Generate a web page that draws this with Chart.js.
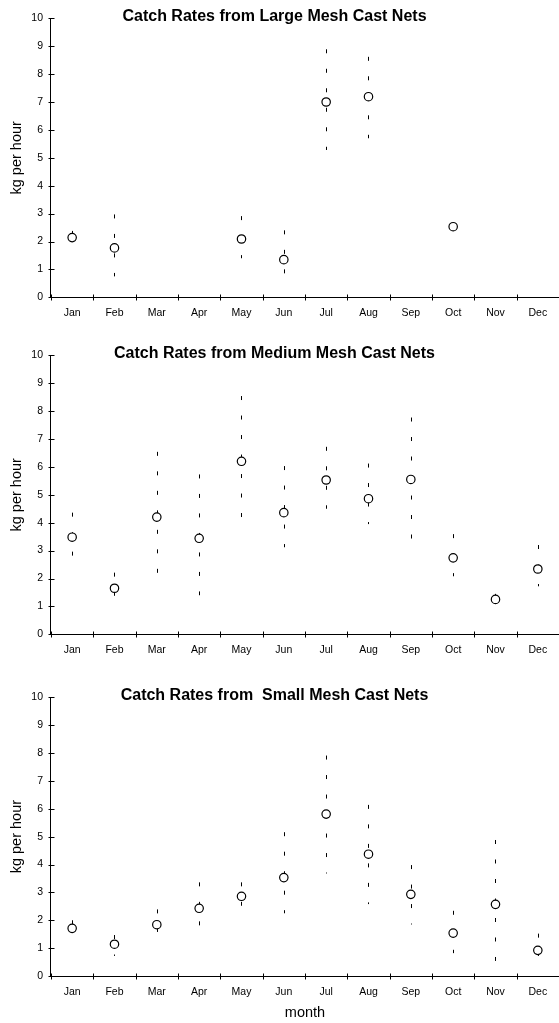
<!DOCTYPE html>
<html>
<head>
<meta charset="utf-8">
<script src="https://cdn.jsdelivr.net/npm/chart.js@4"></script>
<style>
  body { margin: 0; width: 559px; height: 1023px; overflow: hidden; background: #fff; position: relative; }
  canvas { position: absolute; left: -10px; }
</style>
</head>
<body>
<canvas id="large" width="569" height="330" style="top:0px"></canvas>
<canvas id="medium" width="569" height="330" style="top:337px"></canvas>
<canvas id="small" width="569" height="344" style="top:679px"></canvas>
<script>
// months on the x axis
const months = ['Jan', 'Feb', 'Mar', 'Apr', 'May', 'Jun', 'Jul', 'Aug', 'Sep', 'Oct', 'Nov', 'Dec'];
const yTicks = [0, 10];

// large mesh: mean catch rate and error bar ends (kg per hour)
const largeMean = [2.14, 1.77, null, null, 2.09, 1.35, 7.0, 7.19, null, 2.53, null, null];
const largeHigh = [2.38, 2.97, null, null, 2.91, 2.40, 8.89, 8.62, null, 2.60, null, null];
const largeLow  = [1.90, 0.75, null, null, 1.40, 0.84, 5.28, 5.70, null, 2.45, null, null];

// medium mesh
const mediumMean = [3.48, 1.65, 4.20, 3.44, 6.20, 4.36, 5.53, 4.86, 5.55, 2.74, 1.25, 2.34];
const mediumHigh = [4.36, 2.21, 6.54, 5.73, 8.54, 6.03, 6.72, 6.12, 7.77, 3.59, 1.45, 3.20];
const mediumLow  = [2.82, 1.38, 2.20, 1.40, 4.20, 3.12, 4.50, 3.95, 3.42, 2.08, 1.10, 1.72];

// small mesh
const smallMean = [1.71, 1.14, 1.84, 2.43, 2.86, 3.53, 5.81, 4.37, 2.93, 1.54, 2.57, 0.92];
const smallHigh = [2.00, 1.47, 2.39, 3.36, 3.36, 5.16, 7.91, 6.14, 3.98, 2.34, 4.88, 1.52];
const smallLow  = [1.50, 0.72, 1.58, 1.80, 2.52, 2.25, 3.68, 2.58, 1.85, 0.82, 0.54, 0.72];

Chart.defaults.font.family = '"Liberation Sans", Arial, sans-serif';
Chart.defaults.color = '#000';

// dashed vertical error bars, drawn under the circles
const errorBars = {
  id: 'errorBars',
  beforeDatasetsDraw(chart, args, opts) {
    const { ctx, scales: { x, y } } = chart;
    ctx.save();
    ctx.strokeStyle = '#000';
    ctx.lineWidth = 1;
    ctx.setLineDash([4, 15.5]);
    opts.low.forEach((lo, i) => {
      const hi = opts.high[i];
      if (lo == null || hi == null) return;
      const px = Math.round(x.getPixelForValue(i)) + 0.5;
      ctx.beginPath();
      ctx.moveTo(px, y.getPixelForValue(hi));
      ctx.lineTo(px, y.getPixelForValue(lo));
      ctx.stroke();
    });
    ctx.restore();
  }
};

// tick marks that cross both axes
const crossTicks = {
  id: 'crossTicks',
  afterDraw(chart) {
    const { ctx, scales: { x, y }, chartArea } = chart;
    ctx.save();
    ctx.strokeStyle = '#000';
    ctx.lineWidth = 1;
    ctx.beginPath();
    const lx = Math.round(chartArea.left) + 0.5;
    y.ticks.forEach((t, i) => {
      const py = Math.round(y.getPixelForTick(i)) + 0.5;
      ctx.moveTo(lx - 3, py);
      ctx.lineTo(lx + 3, py);
    });
    const by = Math.round(chartArea.bottom) + 0.5;
    for (let i = 0; i <= months.length; i++) {
      const px = Math.round(x.getPixelForValue(i - 0.5)) + 0.5;
      ctx.moveTo(px, by - 3);
      ctx.lineTo(px, by + 3);
    }
    ctx.stroke();
    ctx.restore();
  }
};

function makeChart(id, title, mean, high, low, showMonth) {
  new Chart(document.getElementById(id), {
    type: 'line',
    data: {
      labels: months,
      datasets: [{
        data: mean,
        showLine: false,
        pointRadius: 4.2,
        pointHoverRadius: 4.2,
        pointBorderWidth: 1.2,
        pointBorderColor: '#000',
        pointBackgroundColor: '#fff'
      }]
    },
    options: {
      responsive: false,
      animation: false,
      layout: { autoPadding: false, padding: { left: 0, right: 0, top: 0, bottom: showMonth ? 0 : 1.1 } },
      plugins: {
        legend: { display: false },
        tooltip: { enabled: false },
        title: {
          display: true,
          text: title,
          color: '#000',
          font: { size: 16, weight: 'bold' },
          padding: { top: 7.1, bottom: -8 }
        },
        errorBars: { high: high, low: low }
      },
      scales: {
        x: {
          type: 'category',
          offset: true,
          grid: { display: false, drawTicks: false, tickLength: 0 },
          border: { display: true, color: '#000', width: 1 },
          ticks: { font: { size: 10.5 }, padding: 9.5, maxRotation: 0, autoSkip: false },
          title: {
            display: showMonth,
            text: 'month',
            font: { size: 14.5 },
            padding: { top: -3.3, bottom: 1.3 }
          }
        },
        y: {
          min: yTicks[0],
          max: yTicks[1],
          grid: { display: false, drawTicks: false, tickLength: 0 },
          border: { display: true, color: '#000', width: 1 },
          ticks: { stepSize: 1, font: { size: 10.5 }, padding: 8 },
          title: {
            display: true,
            text: 'kg per hour',
            font: { size: 14.5 },
            padding: { top: 18, bottom: -2.1 }
          }
        }
      }
    },
    plugins: [errorBars, crossTicks]
  });
}

makeChart('large', 'Catch Rates from Large Mesh Cast Nets', largeMean, largeHigh, largeLow, false);
makeChart('medium', 'Catch Rates from Medium Mesh Cast Nets', mediumMean, mediumHigh, mediumLow, false);
makeChart('small', 'Catch Rates from  Small Mesh Cast Nets', smallMean, smallHigh, smallLow, true);
</script>
</body>
</html>
